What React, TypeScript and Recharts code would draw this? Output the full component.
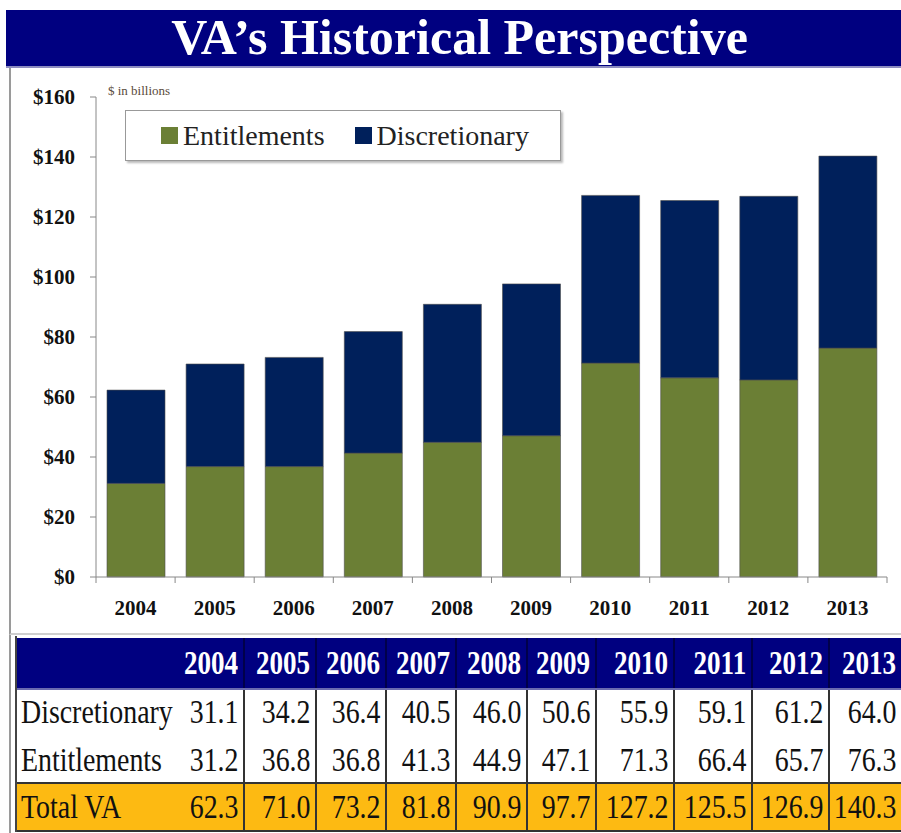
import { Bar, BarChart, Legend, XAxis, YAxis } from 'recharts';

const years = ['2004', '2005', '2006', '2007', '2008', '2009', '2010', '2011', '2012', '2013'];
const discretionary = [31.1, 34.2, 36.4, 40.5, 46.0, 50.6, 55.9, 59.1, 61.2, 64.0];
const entitlements = [31.2, 36.8, 36.8, 41.3, 44.9, 47.1, 71.3, 66.4, 65.7, 76.3];
const totals = [62.3, 71.0, 73.2, 81.8, 90.9, 97.7, 127.2, 125.5, 126.9, 140.3];
const yTicks = [0, 20, 40, 60, 80, 100, 120, 140, 160];
const seriesOrder = ['Entitlements', 'Discretionary'];

const SERIF = "'Liberation Serif', 'DejaVu Serif', serif";
const NAVY = '#000080';
const BAR_NAVY = '#00205B';
const GREEN = '#6B7F35';
const GOLD = '#FDBA12';

// chart geometry
const PLOT_LEFT = 96;
const PLOT_RIGHT = 887;
const BAND = (PLOT_RIGHT - PLOT_LEFT) / years.length;

// table column edges
const colEdges = [16, 178, 245, 317, 387, 457, 528, 597, 675, 753, 830, 901];

const chartData = years.map((year, i) => ({
  year,
  Entitlements: entitlements[i],
  Discretionary: discretionary[i],
}));

const XTick = (props: any) => {
  const { x, y, payload, index } = props;
  const left = x - BAND / 2;
  const right = x + BAND / 2;
  return (
    <g>
      <line x1={left} y1={y} x2={left} y2={y + 6} stroke="#888" />
      {index === years.length - 1 && <line x1={right} y1={y} x2={right} y2={y + 6} stroke="#888" />}
      <text x={x} y={y + 38} textAnchor="middle" fontFamily={SERIF} fontWeight="bold" fontSize={21} fill="#111">
        {payload.value}
      </text>
    </g>
  );
};

const LegendBox = (props: any) => {
  const items = [...(props.payload || [])].sort(
    (a: any, b: any) => seriesOrder.indexOf(a.value) - seriesOrder.indexOf(b.value)
  );
  return (
    <div
      style={{
        width: 436,
        height: 51,
        border: '1px solid #999',
        boxShadow: '2px 2px 2px #bbb',
        background: '#fff',
        display: 'flex',
        alignItems: 'center',
        paddingLeft: 35,
        boxSizing: 'border-box',
        fontFamily: SERIF,
        fontSize: 28,
        color: '#222',
        whiteSpace: 'nowrap',
      }}
    >
      {items.map((it: any, i: number) => (
        <div key={i} style={{ display: 'flex', alignItems: 'center', marginRight: 30 }}>
          <span style={{ display: 'inline-block', width: 17, height: 17, background: it.color, marginRight: 5 }} />
          <span>{it.value}</span>
        </div>
      ))}
    </div>
  );
};

interface CellProps {
  left: number;
  width: number;
  top: number;
  height: number;
  text: string;
  align: 'left' | 'right';
  color: string;
  bold?: boolean;
  borderRight?: string;
}

const TCell = ({ left, width, top, height, text, align, color, bold, borderRight }: CellProps) => (
  <div
    style={{
      position: 'absolute',
      left,
      top,
      width,
      height,
      boxSizing: 'border-box',
      borderRight,
      display: 'flex',
      alignItems: 'center',
      justifyContent: align === 'left' ? 'flex-start' : 'flex-end',
      paddingLeft: align === 'left' ? 5 : 0,
      paddingRight: align === 'right' ? 5 : 0,
      fontFamily: SERIF,
      fontSize: bold ? 33 : 34,
      fontWeight: bold ? 'bold' : 'normal',
      color,
      whiteSpace: 'nowrap',
    }}
  >
    <span
      style={{
        display: 'inline-block',
        flexShrink: 0,
        transform: 'scaleX(0.82)',
        transformOrigin: align === 'left' ? 'left center' : 'right center',
      }}
    >
      {text}
    </span>
  </div>
);

const tableRows = [
  { label: '', values: years, top: 638, height: 50, bg: NAVY, color: '#fff', bold: true, line: '2px solid #00004a' },
  { label: 'Discretionary', values: discretionary.map((v) => v.toFixed(1)), top: 688, height: 48, bg: '#fff', color: '#111', bold: false, line: '2px solid #333' },
  { label: 'Entitlements', values: entitlements.map((v) => v.toFixed(1)), top: 736, height: 47, bg: '#fff', color: '#111', bold: false, line: '2px solid #333' },
  { label: 'Total VA', values: totals.map((v) => v.toFixed(1)), top: 783, height: 48, bg: GOLD, color: '#111', bold: false, line: '2px solid #333' },
];

const App = () => {
  return (
    <div style={{ position: 'absolute', left: 0, top: 0, width: 901, height: 833, background: '#fff', overflow: 'hidden' }}>
      {/* title banner */}
      <div
        style={{
          position: 'absolute',
          left: 6,
          top: 10,
          width: 895,
          height: 56,
          background: NAVY,
        }}
      />
      <div
        style={{
          position: 'absolute',
          left: 6,
          top: 12,
          width: 895,
          height: 50,
          color: '#fff',
          fontFamily: SERIF,
          fontWeight: 'bold',
          fontSize: 50,
          lineHeight: '50px',
          textAlign: 'center',
          paddingLeft: 12,
          boxSizing: 'border-box',
          whiteSpace: 'nowrap',
        }}
      >
        VA’s Historical Perspective
      </div>
      <div style={{ position: 'absolute', left: 6, top: 66, width: 895, height: 2, background: '#8c8cc0' }} />

      {/* chart frame */}
      <div
        style={{
          position: 'absolute',
          left: 9,
          top: 68,
          width: 892,
          height: 567,
          borderLeft: '2px solid #9a9a9a',
          borderBottom: '2px solid #cfcfcf',
          boxSizing: 'border-box',
        }}
      />

      <div style={{ position: 'absolute', left: 108, top: 83, fontFamily: SERIF, fontSize: 13, color: '#5a4a3a' }}>
        $ in billions
      </div>

      <div style={{ position: 'absolute', left: 0, top: 0 }}>
        <BarChart
          width={901}
          height={640}
          data={chartData}
          margin={{ top: 97, right: 901 - PLOT_RIGHT, bottom: 23, left: 36 }}
        >
          <XAxis
            dataKey="year"
            height={40}
            axisLine={{ stroke: '#888' }}
            tickLine={false}
            tickSize={0}
            tickMargin={0}
            interval={0}
            tick={<XTick />}
          />
          <YAxis
            width={60}
            domain={[0, 160]}
            ticks={yTicks}
            interval={0}
            axisLine={{ stroke: '#888' }}
            tickLine={{ stroke: '#888' }}
            tickSize={6}
            tickMargin={15}
            tickFormatter={(v: number) => `$${v}`}
            tick={{ fontFamily: SERIF, fontWeight: 'bold', fontSize: 21, fill: '#111' }}
          />
          <Legend
            layout="horizontal"
            verticalAlign="middle"
            align="center"
            content={<LegendBox />}
            wrapperStyle={{ left: 125, top: 110, width: 438, height: 53 }}
          />
          <Bar dataKey="Entitlements" stackId="a" fill={GREEN} barSize={58} stroke="#4d4d4d" strokeWidth={0.6} isAnimationActive={false} />
          <Bar dataKey="Discretionary" stackId="a" fill={BAR_NAVY} barSize={58} stroke="#4d4d4d" strokeWidth={0.6} isAnimationActive={false} />
        </BarChart>
      </div>

      {/* data table */}
      {tableRows.map((row, r) => (
        <div key={r}>
          <div
            style={{
              position: 'absolute',
              left: colEdges[0],
              top: row.top,
              width: 901 - colEdges[0],
              height: row.height,
              background: row.bg,
            }}
          />
          <TCell
            left={colEdges[0]}
            width={colEdges[1] - colEdges[0]}
            top={row.top}
            height={row.height}
            text={row.label}
            align="left"
            color={row.color}
          />
          {row.values.map((v, i) => (
            <TCell
              key={i}
              left={colEdges[i + 1]}
              width={colEdges[i + 2] - colEdges[i + 1]}
              top={row.top}
              height={row.height}
              text={v}
              align="right"
              color={row.color}
              bold={row.bold}
              borderRight={i < row.values.length - 1 ? row.line : undefined}
            />
          ))}
        </div>
      ))}
      <div style={{ position: 'absolute', left: colEdges[0], top: 688, width: 901 - colEdges[0], height: 2, background: '#6a6ab0' }} />
      <div style={{ position: 'absolute', left: colEdges[0], top: 782, width: 901 - colEdges[0], height: 2, background: '#333' }} />
      <div style={{ position: 'absolute', left: colEdges[0], top: 830, width: 901 - colEdges[0], height: 2, background: '#333' }} />
      <div style={{ position: 'absolute', left: colEdges[0] - 1, top: 636, width: 2, height: 196, background: '#444' }} />
      <div style={{ position: 'absolute', left: 9, top: 635, width: 2, height: 198, background: '#9a9a9a' }} />
    </div>
  );
};

export default App;
